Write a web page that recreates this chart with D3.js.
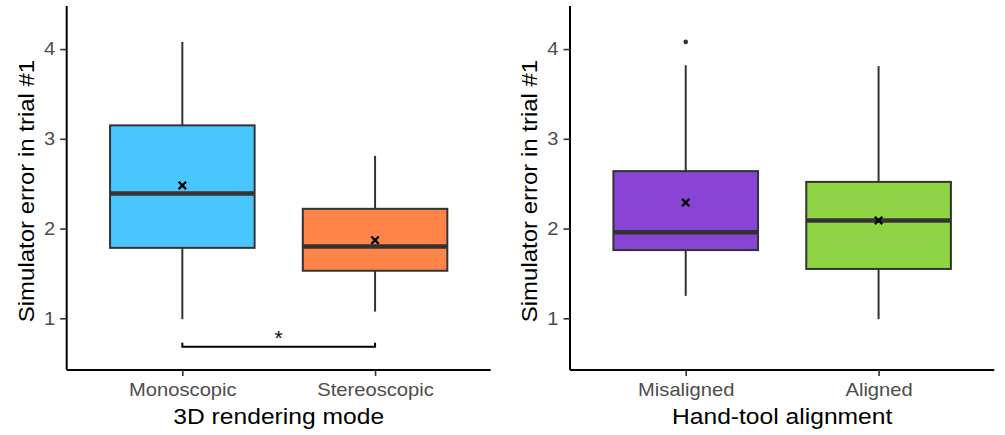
<!DOCTYPE html>
<html><head><meta charset="utf-8">
<script src="https://cdn.jsdelivr.net/npm/d3@7"></script>
<style>body{margin:0;background:#fff}svg{display:block}text{font-family:"Liberation Sans",Arial,sans-serif}</style>
</head><body>
<script>
// Panel 1
const catsA = ["Monoscopic", "Stereoscopic"];
const statsA = [
  {lo: 0.99, q1: 1.785, med: 2.39, q3: 3.15, hi: 4.08, mean: 2.48},
  {lo: 1.075, q1: 1.53, med: 1.80, q3: 2.22, hi: 2.81, mean: 1.87}
];
const colorsA = ["#4AC6FF", "#FF844A"];
const outliersA = [[], []];
// Panel 2
const catsB = ["Misaligned", "Aligned"];
const statsB = [
  {lo: 1.25, q1: 1.76, med: 1.96, q3: 2.64, hi: 3.82, mean: 2.29},
  {lo: 0.99, q1: 1.55, med: 2.09, q3: 2.52, hi: 3.81, mean: 2.09}
];
const colorsB = ["#8844D4", "#8FD444"];
const outliersB = [[4.08], []];
const yTicks = [1, 2, 3, 4];
const yDomain = [0.424, 4.48];
const signif = {from: 0, to: 1, y: 0.683, label: "*"};

const W = 1005, H = 435;
const FONT = "Liberation Sans, Arial, sans-serif";
const SX = 1.12; // horizontal glyph stretch seen in the reference
const svg = d3.select("body").append("svg").attr("width", W).attr("height", H);

function panel(x0, x1, cats, stats, colors, outliers, xTitle, sig) {
  const top = 6, bottom = 370;
  const y = d3.scaleLinear().domain(yDomain).range([bottom, top]);
  const pos = d3.scaleLinear().domain([0.4, cats.length + 0.6]).range([x0, x1]);
  const g = svg.append("g");
  const boxW = pos(1.375) - pos(1);

  stats.forEach((s, i) => {
    const cx = pos(i + 1);
    g.append("line").attr("x1", cx).attr("x2", cx).attr("y1", y(s.hi)).attr("y2", y(s.q3))
      .attr("stroke", "#333").attr("stroke-width", 2);
    g.append("line").attr("x1", cx).attr("x2", cx).attr("y1", y(s.q1)).attr("y2", y(s.lo))
      .attr("stroke", "#333").attr("stroke-width", 2);
    g.append("rect").attr("x", cx - boxW).attr("width", 2 * boxW)
      .attr("y", y(s.q3)).attr("height", y(s.q1) - y(s.q3))
      .attr("fill", colors[i]).attr("stroke", "#333").attr("stroke-width", 2);
    g.append("line").attr("x1", cx - boxW).attr("x2", cx + boxW).attr("y1", y(s.med)).attr("y2", y(s.med))
      .attr("stroke", "#333").attr("stroke-width", 4.5);
    outliers[i].forEach(o => {
      g.append("circle").attr("cx", cx).attr("cy", y(o)).attr("r", 2.3).attr("fill", "#333");
    });
    const my = y(s.mean), d = 3.7;
    g.append("path").attr("d", `M${cx-d},${my-d}L${cx+d},${my+d}M${cx-d},${my+d}L${cx+d},${my-d}`)
      .attr("stroke", "#000").attr("stroke-width", 2.3);
  });

  if (sig) {
    const xa = pos(sig.from + 1), xb = pos(sig.to + 1), yy = y(sig.y);
    g.append("path").attr("d", `M${xa},${yy-4}L${xa},${yy}L${xb},${yy}L${xb},${yy-4}`)
      .attr("fill", "none").attr("stroke", "#000").attr("stroke-width", 2);
    g.append("text").attr("x", (xa + xb) / 2).attr("y", yy - 1.5).attr("text-anchor", "middle")
      .attr("font-size", 21).attr("fill", "#000").text(sig.label);
  }

  // y axis
  const ya = g.append("g").attr("transform", `translate(${x0},0)`)
    .call(d3.axisLeft(y).tickValues(yTicks).tickSize(6.5).tickPadding(4).tickFormat(d3.format("d")));
  ya.select(".domain").attr("stroke", "#000").attr("stroke-width", 2).attr("d", `M0,${top}V${bottom}`);
  ya.selectAll(".tick line").attr("stroke", "#333").attr("stroke-width", 1.6);
  ya.selectAll(".tick text").attr("fill", "#4D4D4D").attr("font-size", 18).attr("font-family", FONT)
    .attr("x", -11.5 / SX).attr("transform", `scale(${SX},1)`);

  // x axis
  const xs = d3.scalePoint().domain(cats).range([pos(1), pos(cats.length)]);
  const xa = g.append("g").attr("transform", `translate(0,${bottom})`)
    .call(d3.axisBottom(xs).tickSize(6).tickPadding(4));
  xa.select(".domain").attr("stroke", "#000").attr("stroke-width", 2).attr("d", `M${x0},0H${x1}`);
  xa.selectAll(".tick line").attr("stroke", "#333").attr("stroke-width", 1.6);
  xa.selectAll(".tick text").attr("fill", "#4D4D4D").attr("font-size", 18).attr("font-family", FONT)
    .attr("y", 26.5).attr("dy", null).attr("transform", `scale(${SX},1)`);

  // titles
  g.append("text").attr("transform", `translate(${(x0 + x1) / 2},424) scale(${SX},1)`).attr("text-anchor", "middle")
    .attr("font-size", 22).attr("fill", "#000").text(xTitle);
  g.append("text").attr("transform", `translate(${x0 - 33},${(top + bottom) / 2 + 3}) rotate(-90) scale(1.09,1)`)
    .attr("text-anchor", "middle").attr("font-size", 22).attr("fill", "#000")
    .text("Simulator error in trial #1");
}

panel(66.7, 490.7, catsA, statsA, colorsA, outliersA, "3D rendering mode", signif);
panel(570, 994.3, catsB, statsB, colorsB, outliersB, "Hand-tool alignment", null);
</script>
</body></html>
